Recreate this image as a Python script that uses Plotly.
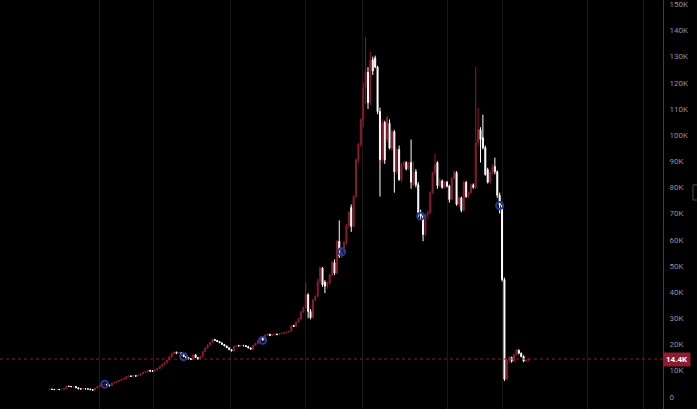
import plotly.graph_objects as go

# weekly candles, prices in thousands
open_k = [
    2.7, 2.9, 2.8, 2.7, 2.8, 2.7, 2.8, 3.1, 4.0, 3.9,
    3.8, 3.9, 3.4, 3.0, 2.9, 3.1, 3.0, 2.9, 2.7, 2.5,
    3.3, 4.0, 4.3, 4.7, 4.8, 4.4, 4.2, 5.2, 5.5, 5.9,
    6.2, 6.6, 7.0, 7.7, 7.9, 7.8, 8.0, 7.9, 8.2, 8.8,
    9.3, 9.6, 10.0, 9.8, 9.7, 10.2, 10.8, 11.6, 12.3, 13.1,
    14.0, 15.2, 16.5, 17.0, 16.6, 16.8, 16.0, 15.3, 14.9, 14.5,
    14.3, 16.0, 15.0, 14.4, 15.4, 17.2, 18.6, 19.8, 20.8, 21.9,
    21.5, 21.1, 20.6, 20.0, 19.4, 18.7, 18.0, 17.5, 19.3, 19.5,
    19.4, 19.6, 19.5, 19.2, 18.6, 18.2, 19.6, 20.4, 21.5, 22.5,
    21.6, 23.6, 23.9, 23.4, 23.8, 23.9, 23.7, 24.1, 24.3, 24.5,
    24.7, 25.0, 27.2, 26.9, 28.6, 29.7, 32.4, 34.0, 39.0, 32.6,
    30.2, 37.0, 38.4, 44.0, 49.2, 43.8, 42.2, 43.5, 46.5, 51.3,
    47.2, 59.4, 53.8, 55.4, 59.0, 65.5, 72.3, 65.1, 76.5, 90.6,
    96.4, 105.9, 118.1, 124.0, 112.4, 128.8, 129.5, 126.0, 109.0, 90.6,
    104.8, 98.3, 104.5, 95.0, 101.3, 86.0, 94.5, 83.0, 88.7, 89.5,
    87.0, 89.5, 81.0, 86.0, 81.0, 70.4, 69.0, 62.0, 69.7, 70.4,
    78.0, 85.7, 89.5, 80.7, 82.5, 80.0, 82.0, 80.5, 75.4, 83.4,
    85.7, 73.5, 76.0, 71.2, 81.9, 76.5, 78.0, 81.0, 80.0, 97.1,
    102.1, 99.0, 95.2, 86.8, 82.0, 85.7, 88.0, 86.0, 77.0, 73.1,
    44.8, 6.7, 14.0, 15.0, 13.6, 16.0, 17.8, 16.6, 15.4, 13.6,
    13.9,
]
high_k = [
    2.9, 3.0, 2.9, 2.9, 2.9, 2.9, 3.3, 4.2, 4.2, 4.1,
    4.1, 4.0, 3.5, 3.2, 3.2, 3.2, 3.1, 3.0, 2.8, 3.4,
    4.1, 4.5, 4.9, 5.0, 5.0, 4.6, 5.4, 5.8, 6.0, 6.4,
    6.8, 7.2, 7.9, 8.1, 8.1, 8.2, 8.2, 8.4, 9.0, 9.5,
    9.8, 10.2, 10.3, 10.1, 10.4, 11.0, 11.8, 12.5, 13.3, 14.2,
    15.5, 16.8, 17.3, 17.2, 17.1, 16.9, 16.2, 15.5, 15.1, 14.8,
    16.3, 16.2, 15.1, 15.6, 17.4, 18.8, 20.0, 21.0, 22.2, 22.0,
    21.6, 21.2, 20.7, 20.1, 19.5, 18.8, 18.1, 19.5, 19.7, 19.8,
    19.8, 19.8, 19.7, 19.3, 18.8, 19.9, 20.6, 21.8, 22.8, 22.6,
    23.9, 24.0, 24.0, 24.0, 24.1, 24.1, 24.3, 24.5, 24.7, 24.9,
    25.2, 27.4, 27.5, 28.9, 30.0, 32.8, 34.5, 43.7, 39.5, 33.5,
    37.5, 38.8, 45.0, 49.8, 49.6, 44.5, 44.0, 47.0, 52.0, 52.5,
    59.8, 67.4, 56.5, 59.5, 66.0, 71.0, 73.5, 77.0, 91.0, 97.0,
    106.5, 120.0, 137.6, 126.0, 131.9, 130.0, 130.4, 126.5, 110.5, 106.0,
    105.5, 107.5, 106.0, 102.0, 102.0, 95.0, 96.0, 89.5, 90.2, 90.0,
    89.8, 98.3, 90.0, 87.0, 82.0, 71.5, 69.5, 70.0, 71.2, 78.5,
    86.0, 93.0, 90.0, 83.5, 83.0, 82.5, 82.5, 81.0, 84.0, 86.5,
    86.2, 76.5, 76.5, 82.5, 82.5, 78.5, 81.5, 81.5, 126.0, 110.5,
    103.0, 107.8, 96.0, 87.5, 86.5, 88.8, 91.4, 86.5, 78.0, 73.5,
    45.5, 14.5, 15.5, 15.3, 16.5, 18.2, 18.0, 16.9, 15.8, 14.2,
    14.6,
]
low_k = [
    2.6, 2.7, 2.6, 2.6, 2.6, 2.6, 2.7, 3.0, 3.8, 3.7,
    3.6, 3.3, 2.9, 2.8, 2.8, 2.8, 2.8, 2.6, 2.3, 2.4,
    3.2, 3.8, 4.2, 4.5, 4.2, 4.0, 4.1, 5.0, 5.3, 5.6,
    6.0, 6.4, 6.8, 7.4, 7.6, 7.6, 7.7, 7.8, 8.0, 8.6,
    9.1, 9.4, 9.6, 9.5, 9.6, 10.0, 10.6, 11.4, 12.1, 12.9,
    13.8, 15.0, 16.2, 16.3, 16.4, 15.8, 15.2, 14.7, 14.2, 14.0,
    14.1, 14.8, 14.1, 14.3, 15.3, 17.0, 18.4, 19.6, 20.6, 21.3,
    20.9, 20.5, 19.9, 19.3, 18.6, 17.8, 17.3, 17.4, 19.2, 19.3,
    19.3, 19.3, 19.0, 18.5, 18.0, 17.8, 19.4, 20.2, 20.9, 21.4,
    21.5, 23.2, 23.2, 23.3, 23.5, 23.6, 23.6, 23.9, 24.1, 24.3,
    24.5, 24.8, 26.7, 26.8, 28.4, 29.5, 32.0, 33.8, 30.0, 29.6,
    30.0, 36.5, 38.0, 43.5, 42.0, 39.6, 41.2, 43.0, 46.0, 46.5,
    47.0, 53.0, 53.0, 55.0, 58.2, 64.5, 63.0, 64.8, 76.0, 89.5,
    95.5, 103.0, 112.0, 110.0, 111.5, 123.0, 125.5, 108.0, 76.5, 89.5,
    89.0, 97.0, 94.5, 94.0, 78.0, 85.0, 82.5, 82.0, 87.5, 86.5,
    86.5, 79.5, 80.5, 80.0, 68.5, 67.5, 59.4, 61.5, 68.0, 70.0,
    77.5, 84.5, 79.5, 80.0, 79.5, 79.5, 80.0, 74.2, 75.0, 83.0,
    73.0, 72.5, 70.5, 70.8, 76.0, 76.0, 77.5, 79.5, 79.5, 96.0,
    89.5, 94.5, 84.5, 81.5, 81.5, 85.0, 85.0, 76.0, 70.0, 44.0,
    6.0, 6.3, 13.0, 13.0, 13.2, 15.8, 16.2, 15.0, 13.2, 13.3,
    13.7,
]
close_k = [
    2.9, 2.8, 2.7, 2.8, 2.7, 2.8, 3.1, 4.0, 3.9, 3.8,
    3.9, 3.4, 3.0, 2.9, 3.1, 3.0, 2.9, 2.7, 2.5, 3.3,
    4.0, 4.3, 4.7, 4.8, 4.4, 4.2, 5.2, 5.5, 5.9, 6.2,
    6.6, 7.0, 7.7, 7.9, 7.8, 8.0, 7.9, 8.2, 8.8, 9.3,
    9.6, 10.0, 9.8, 9.7, 10.2, 10.8, 11.6, 12.3, 13.1, 14.0,
    15.2, 16.5, 17.0, 16.6, 16.8, 16.0, 15.3, 14.9, 14.5, 14.3,
    16.0, 15.0, 14.4, 15.4, 17.2, 18.6, 19.8, 20.8, 21.9, 21.5,
    21.1, 20.6, 20.0, 19.4, 18.7, 18.0, 17.5, 19.3, 19.5, 19.4,
    19.6, 19.5, 19.2, 18.6, 18.2, 19.6, 20.4, 21.5, 22.5, 21.6,
    23.6, 23.9, 23.4, 23.8, 23.9, 23.7, 24.1, 24.3, 24.5, 24.7,
    25.0, 27.2, 26.9, 28.6, 29.7, 32.4, 34.0, 39.0, 32.6, 30.2,
    37.0, 38.4, 44.0, 49.2, 42.8, 42.2, 43.5, 46.5, 51.3, 47.2,
    59.4, 53.8, 55.4, 59.0, 65.5, 70.4, 65.1, 76.5, 90.6, 96.4,
    105.9, 118.1, 124.0, 112.4, 128.8, 124.5, 126.0, 109.0, 90.6, 104.8,
    90.6, 106.7, 95.0, 101.3, 86.0, 94.5, 83.0, 88.7, 89.5, 87.0,
    89.5, 82.0, 86.0, 81.0, 70.4, 69.0, 62.0, 69.7, 70.4, 78.0,
    85.7, 88.7, 80.7, 82.5, 80.0, 82.0, 80.5, 75.4, 83.4, 85.7,
    73.5, 76.0, 71.2, 81.9, 76.5, 78.0, 81.0, 80.0, 97.1, 102.1,
    98.3, 95.2, 84.9, 82.0, 85.7, 88.0, 86.0, 77.0, 73.1, 44.8,
    6.7, 14.0, 15.0, 13.6, 16.0, 17.8, 16.6, 15.4, 13.6, 13.9,
    14.4,
]
candle_no = list(range(len(close_k)))

# event markers (hollow blue circles)
event_no = [23, 56, 89, 122, 155, 188]
event_k = [4.8, 15.3, 21.6, 55.4, 69.0, 73.1]

last_k = 14.4

y_ticks = [0, 10, 20, 30, 40, 50, 60, 70, 80, 90, 100, 110, 120, 130, 140, 150]
y_labels = ["0", "10K", "20K", "30K", "40K", "50K", "60K", "70K", "80K", "90K",
            "100K", "110K", "120K", "130K", "140K", "150K"]

# vertical time grid, in candle units
grid_at = [21.05, 43.2, 75.4, 107.1, 130.5, 166.0, 189.0, 224.5, 247.9]

RED = "#8e1b2e"
WHITE = "#ffffff"

fig = go.Figure()
fig.add_trace(go.Candlestick(
    x=candle_no, open=open_k, high=high_k, low=low_k, close=close_k,
    increasing=dict(fillcolor=RED, line=dict(color=RED, width=1)),
    decreasing=dict(fillcolor=WHITE, line=dict(color=WHITE, width=1)),
    showlegend=False, hoverinfo="skip",
))
fig.add_trace(go.Scatter(
    x=event_no, y=event_k, mode="markers", showlegend=False, hoverinfo="skip",
    marker=dict(symbol="circle-open", size=7, color="#1f3d9c", line=dict(width=2)),
))

fig.add_hline(y=last_k, line=dict(color=RED, width=1, dash="dot"))
fig.add_annotation(
    x=1, xref="paper", xanchor="left", y=last_k, yref="y",
    text=f"<b>{last_k}K</b>", showarrow=False, bgcolor=RED, borderpad=2,
    font=dict(size=8, color=WHITE, family="Roboto"),
)
# little scroll handle peeking in at the right edge
fig.add_shape(type="rect", xref="paper", yref="paper", x0=1.0452, x1=1.07, y0=0.511, y1=0.548,
              line=dict(color="#4a4a4a", width=1))

fig.update_layout(
    width=697, height=409, margin=dict(l=0, r=34, t=0, b=0),
    paper_bgcolor="#000000", plot_bgcolor="#000000", boxgap=0.4,
    font=dict(family="Roboto"),
    xaxis=dict(range=[-20.72, 256.23], rangeslider=dict(visible=False), showticklabels=False,
               tickvals=grid_at, ticks="", showgrid=True, gridcolor="#1a1a1a", gridwidth=1,
               zeroline=False, showline=False),
    yaxis=dict(side="right", range=[-4.70, 151.64], tickvals=y_ticks, ticktext=y_labels,
               ticks="", ticklabelstandoff=4, showgrid=False, zeroline=False,
               showline=True, linecolor="#3c3f4a", linewidth=1,
               tickfont=dict(size=8, color="#8b8fa3")),
)

fig.write_html("out.html", config=dict(displayModeBar=False),
               post_script="document.body.style.margin='0';")
